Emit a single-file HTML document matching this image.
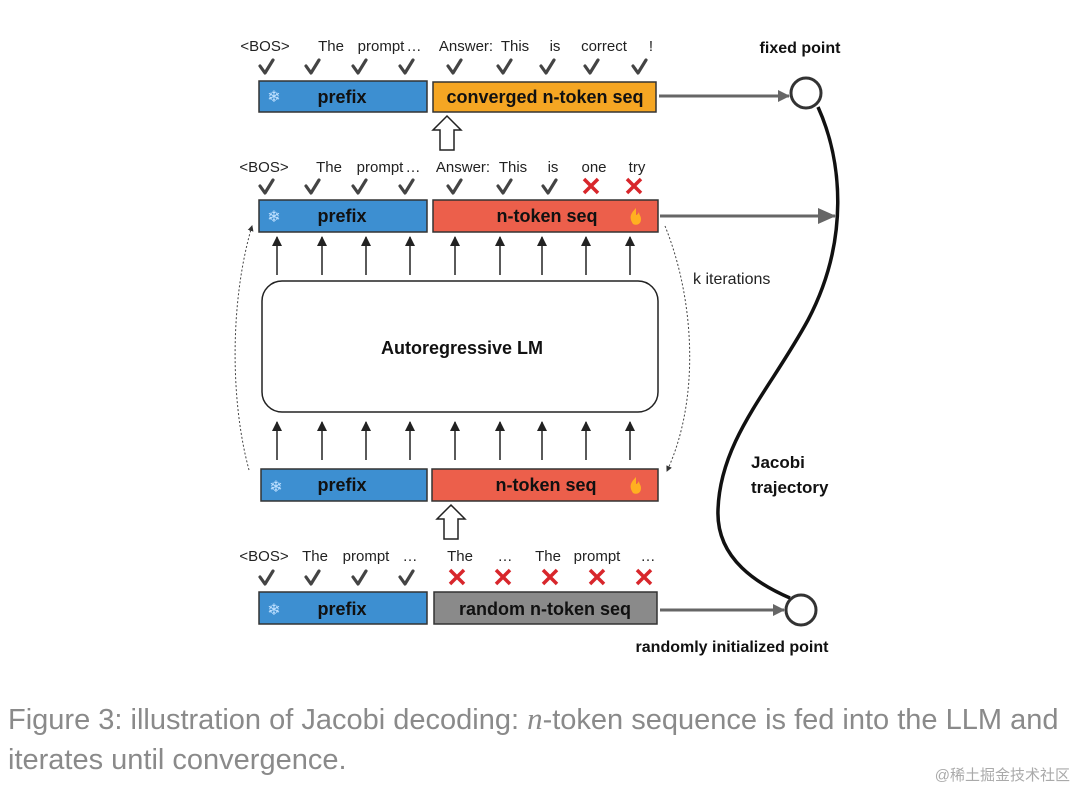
<!DOCTYPE html>
<html><head><meta charset="utf-8"><style>
body{margin:0;background:#fff;width:1080px;height:790px;overflow:hidden;position:relative;font-family:"Liberation Sans",sans-serif}
.cap{position:absolute;left:8px;color:#8a8a8a;font-size:29px;letter-spacing:0px;white-space:nowrap}
</style></head><body>
<svg width="1080" height="790" style="position:absolute;left:0;top:0" font-family="Liberation Sans, sans-serif">
<defs>
<marker id="ga" markerWidth="12" markerHeight="12" refX="11" refY="6" orient="auto" markerUnits="userSpaceOnUse"><path d="M0,0L12,6L0,12z" fill="#666"/></marker>
<marker id="gb" markerWidth="18" markerHeight="16" refX="17" refY="8" orient="auto" markerUnits="userSpaceOnUse"><path d="M0,0L18,8L0,16z" fill="#666"/></marker>
<marker id="ba" markerWidth="10" markerHeight="10" refX="9" refY="5" orient="auto" markerUnits="userSpaceOnUse"><path d="M0,0L10,5L0,10z" fill="#222"/></marker>
<marker id="da" markerWidth="6" markerHeight="6" refX="5" refY="3" orient="auto" markerUnits="userSpaceOnUse"><path d="M0,0L6,3L0,6z" fill="#333"/></marker>
</defs>
<g font-size="15" fill="#222" text-anchor="middle">
<text x="265" y="51">&lt;BOS&gt;</text><text x="331" y="51">The</text><text x="381" y="51">prompt</text><text x="414" y="51">…</text><text x="466" y="51">Answer:</text><text x="515" y="51">This</text><text x="555" y="51">is</text><text x="604" y="51">correct</text><text x="651" y="51">!</text>
<text x="264" y="172">&lt;BOS&gt;</text><text x="329" y="172">The</text><text x="380" y="172">prompt</text><text x="413" y="172">…</text><text x="463" y="172">Answer:</text><text x="513" y="172">This</text><text x="553" y="172">is</text><text x="594" y="172">one</text><text x="637" y="172">try</text>
<text x="264" y="561">&lt;BOS&gt;</text><text x="315" y="561">The</text><text x="366" y="561">prompt</text><text x="410" y="561">…</text><text x="460" y="561">The</text><text x="505" y="561">…</text><text x="548" y="561">The</text><text x="597" y="561">prompt</text><text x="648" y="561">…</text>
</g>
<g stroke="#444" stroke-width="3.2" fill="none" stroke-linecap="round" stroke-linejoin="round">
<path d="M260,66l5,7l8,-13M306,66l5,7l8,-13M353,66l5,7l8,-13M400,66l5,7l8,-13M448,66l5,7l8,-13M498,66l5,7l8,-13M541,66l5,7l8,-13M585,66l5,7l8,-13M633,66l5,7l8,-13"/>
<path d="M260,186l5,7l8,-13M306,186l5,7l8,-13M353,186l5,7l8,-13M400,186l5,7l8,-13M448,186l5,7l8,-13M498,186l5,7l8,-13M543,186l5,7l8,-13"/>
<path d="M260,577l5,7l8,-13M306,577l5,7l8,-13M353,577l5,7l8,-13M400,577l5,7l8,-13"/>
</g>
<g stroke="#d8262b" stroke-width="3.5" fill="none">
<path d="M584,179l14,14M598,179l-14,14M627,179l14,14M641,179l-14,14"/>
<path d="M450,570l14,14M464,570l-14,14M496,570l14,14M510,570l-14,14M543,570l14,14M557,570l-14,14M590,570l14,14M604,570l-14,14M637,570l14,14M651,570l-14,14"/>
</g>
<g stroke="#333" stroke-width="1.5">
<rect x="259" y="81" width="168" height="31" fill="#3d8fd1"/><rect x="433" y="82" width="223" height="30" fill="#f5a623"/>
<rect x="259" y="200" width="168" height="32" fill="#3d8fd1"/><rect x="433" y="200" width="225" height="32" fill="#ec5f4b"/>
<rect x="261" y="469" width="166" height="32" fill="#3d8fd1"/><rect x="432" y="469" width="226" height="32" fill="#ec5f4b"/>
<rect x="259" y="592" width="168" height="32" fill="#3d8fd1"/><rect x="434" y="592" width="223" height="32" fill="#8a8a8a"/>
</g>
<g font-size="18" font-weight="bold" fill="#111" text-anchor="middle">
<text x="342" y="103">prefix</text><text x="545" y="103">converged n-token seq</text>
<text x="342" y="222">prefix</text><text x="547" y="222">n-token seq</text>
<text x="342" y="491">prefix</text><text x="546" y="491">n-token seq</text>
<text x="342" y="615">prefix</text><text x="545" y="615">random n-token seq</text>
</g>
<g font-size="16" fill="#bfe0ff" text-anchor="middle"><text x="274" y="102">❄</text><text x="274" y="222">❄</text><text x="276" y="492">❄</text><text x="274" y="615">❄</text></g>
<g fill="#ffb020"><path d="M636,208c-6,6 -7,10 -3,16c4,2 8,0 8,-5c0,-3 -2,-4 -2,-7c-1,2 -2,3 -3,3z"/><path d="M636,477c-6,6 -7,10 -3,16c4,2 8,0 8,-5c0,-3 -2,-4 -2,-7c-1,2 -2,3 -3,3z"/></g>
<path d="M440,150v-20h-7l14,-14l14,14h-7v20z" fill="#fff" stroke="#222" stroke-width="1.5"/>
<path d="M444,539v-20h-7l14,-14l14,14h-7v20z" fill="#fff" stroke="#222" stroke-width="1.5"/>
<g stroke="#222" stroke-width="1.5">
<line x1="277" y1="275" x2="277" y2="237" marker-end="url(#ba)"/><line x1="322" y1="275" x2="322" y2="237" marker-end="url(#ba)"/><line x1="366" y1="275" x2="366" y2="237" marker-end="url(#ba)"/><line x1="410" y1="275" x2="410" y2="237" marker-end="url(#ba)"/><line x1="455" y1="275" x2="455" y2="237" marker-end="url(#ba)"/><line x1="500" y1="275" x2="500" y2="237" marker-end="url(#ba)"/><line x1="542" y1="275" x2="542" y2="237" marker-end="url(#ba)"/><line x1="586" y1="275" x2="586" y2="237" marker-end="url(#ba)"/><line x1="630" y1="275" x2="630" y2="237" marker-end="url(#ba)"/>
<line x1="277" y1="460" x2="277" y2="422" marker-end="url(#ba)"/><line x1="322" y1="460" x2="322" y2="422" marker-end="url(#ba)"/><line x1="366" y1="460" x2="366" y2="422" marker-end="url(#ba)"/><line x1="410" y1="460" x2="410" y2="422" marker-end="url(#ba)"/><line x1="455" y1="460" x2="455" y2="422" marker-end="url(#ba)"/><line x1="500" y1="460" x2="500" y2="422" marker-end="url(#ba)"/><line x1="542" y1="460" x2="542" y2="422" marker-end="url(#ba)"/><line x1="586" y1="460" x2="586" y2="422" marker-end="url(#ba)"/><line x1="630" y1="460" x2="630" y2="422" marker-end="url(#ba)"/>
</g>
<rect x="262" y="281" width="396" height="131" rx="20" fill="#fff" stroke="#222" stroke-width="1.5"/>
<text x="462" y="354" font-size="18" font-weight="bold" text-anchor="middle" fill="#111">Autoregressive LM</text>
<g stroke="#666" stroke-width="3" fill="none">
<path d="M659,96H789" marker-end="url(#ga)"/>
<path d="M660,216H835" marker-end="url(#gb)"/>
<path d="M660,610H784" marker-end="url(#ga)"/>
</g>
<circle cx="806" cy="93" r="15" fill="#fff" stroke="#333" stroke-width="3"/>
<circle cx="801" cy="610" r="15" fill="#fff" stroke="#333" stroke-width="3"/>
<path d="M818,107C842,160 850,240 808,320C770,390 720,440 718,510C716,560 760,585 790,598" fill="none" stroke="#111" stroke-width="3.5"/>
<g stroke="#444" stroke-width="1" stroke-dasharray="2,2" fill="none">
<path d="M249,470C230,400 230,300 252,226" marker-end="url(#da)"/>
<path d="M665,226C695,300 700,400 667,471" marker-end="url(#da)"/>
</g>
<text x="800" y="53" font-size="16" font-weight="bold" text-anchor="middle" fill="#111">fixed point</text>
<text x="693" y="284" font-size="16" fill="#222">k iterations</text>
<text x="751" y="468" font-size="17" font-weight="bold" fill="#111">Jacobi</text>
<text x="751" y="493" font-size="17" font-weight="bold" fill="#111">trajectory</text>
<text x="732" y="652" font-size="16" font-weight="bold" text-anchor="middle" fill="#111">randomly initialized point</text>
<text x="1070" y="780" font-size="15" fill="#aaa" text-anchor="end" font-family="Liberation Sans, Noto Sans CJK SC, sans-serif">@稀土掘金技术社区</text>
</svg>
<div class="cap" style="top:701px">Figure 3: illustration of Jacobi decoding: <i style="font-family:'Liberation Serif',serif;font-size:31px">n</i>-token sequence is fed into the LLM and</div>
<div class="cap" style="top:744px">iterates until convergence.</div>
</body></html>
